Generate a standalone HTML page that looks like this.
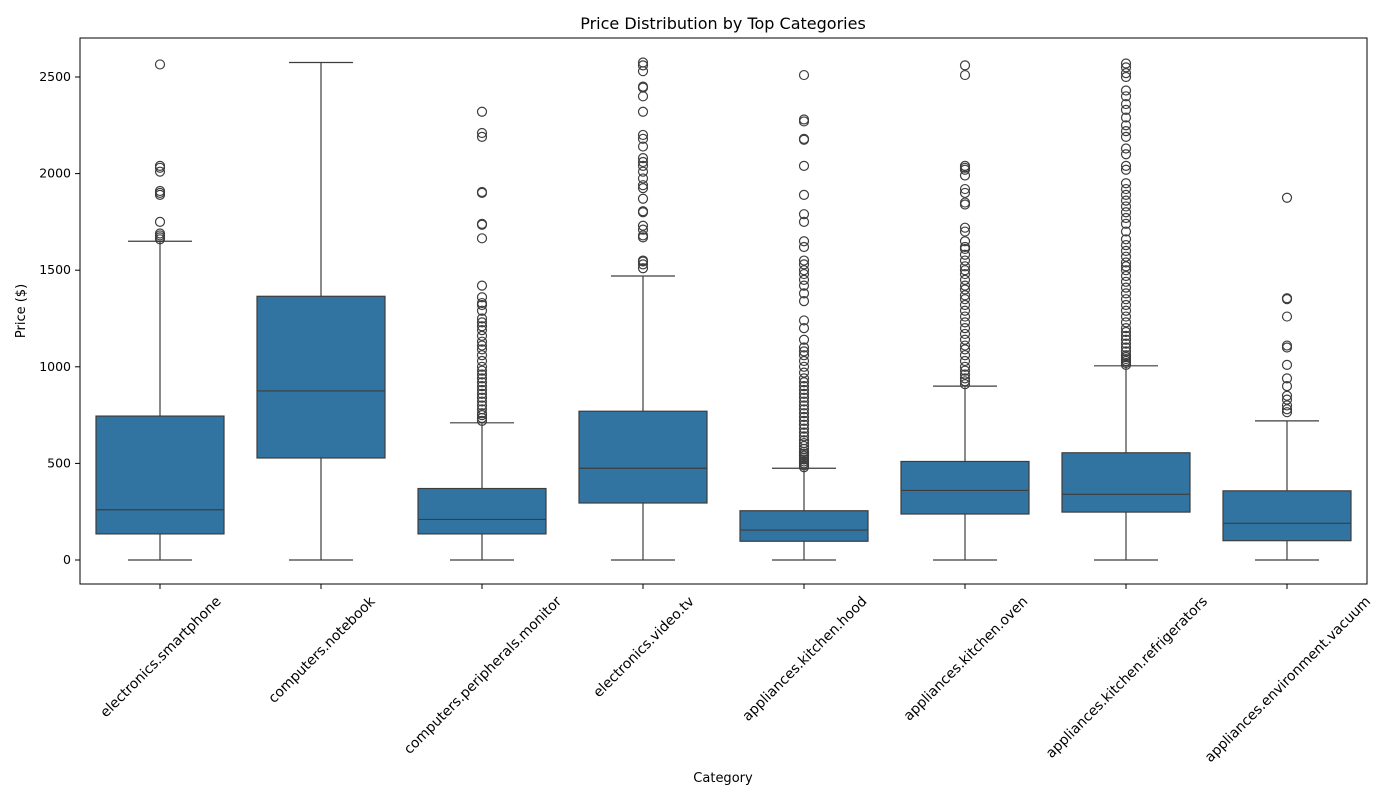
<!DOCTYPE html>
<html><head><meta charset="utf-8"><style>
body{margin:0;background:#fff;font-family:"DejaVu Sans","Liberation Sans",sans-serif}
svg text{font-family:"DejaVu Sans","Liberation Sans",sans-serif;fill:#000}
</style></head><body>
<svg id="c" width="1400" height="800">
<rect x="0" y="0" width="1400" height="800" fill="#fff"/>
<text x="723" y="29" font-size="16" text-anchor="middle">Price Distribution by Top Categories</text>
<text x="723" y="782" font-size="13" text-anchor="middle">Category</text>
<text transform="translate(25,311) rotate(-90)" font-size="13" text-anchor="middle">Price ($)</text>
<g id="marks"></g>
<rect x="80" y="38" width="1287" height="546" fill="none" stroke="#000" stroke-width="1"/>
</svg>
<script>
const categories=["electronics.smartphone","computers.notebook","computers.peripherals.monitor","electronics.video.tv","appliances.kitchen.hood","appliances.kitchen.oven","appliances.kitchen.refrigerators","appliances.environment.vacuum"];
const whiskerLow=[0,0,0,0,0,0,0,0];
const q1=[135,528,135,295,97,238,248,100];
const median=[260,875,210,475,155,360,340,190];
const q3=[745,1365,370,770,255,510,555,358];
const whiskerHigh=[1650,2575,710,1470,475,900,1005,720];
const outliers=[
[1660,1670,1680,1690,1750,1890,1900,1910,2010,2030,2040,2565],
[],
[720,735,750,760,780,800,820,840,860,880,900,920,940,960,980,1000,1030,1060,1090,1110,1130,1160,1190,1210,1230,1250,1290,1320,1330,1360,1420,1665,1735,1740,1900,1905,2190,2210,2320],
[1510,1530,1545,1550,1670,1680,1710,1730,1800,1805,1870,1925,1940,1975,2010,2040,2060,2080,2140,2180,2200,2320,2400,2445,2450,2530,2560,2575],
[480,490,500,510,520,530,540,550,560,575,590,605,620,640,660,680,700,720,740,760,780,800,820,840,860,880,900,920,940,970,1000,1030,1060,1080,1100,1140,1200,1240,1340,1380,1420,1450,1480,1500,1530,1550,1620,1650,1750,1790,1890,2040,2175,2180,2270,2280,2510],
[910,925,940,960,980,1000,1030,1060,1090,1110,1140,1170,1200,1230,1260,1290,1320,1350,1370,1400,1420,1450,1480,1500,1520,1550,1580,1610,1620,1650,1700,1720,1840,1850,1900,1920,1990,2020,2030,2040,2510,2560],
[1010,1020,1030,1040,1050,1060,1080,1100,1120,1140,1160,1180,1200,1230,1260,1290,1320,1350,1380,1410,1440,1470,1500,1520,1540,1570,1600,1630,1660,1700,1740,1770,1800,1830,1860,1890,1920,1950,2020,2040,2100,2130,2190,2220,2250,2290,2330,2360,2400,2430,2500,2520,2550,2570],
[765,780,800,830,850,900,940,1010,1100,1110,1260,1350,1355,1875]];
const yTicks=[0,500,1000,1500,2000,2500];
const ns="http://www.w3.org/2000/svg";
const y=v=>560-v*483/2500;
const x=i=>160+i*161;
const g=document.getElementById('marks');
function el(t,a){const e=document.createElementNS(ns,t);for(const k in a)e.setAttribute(k,a[k]);g.appendChild(e);return e;}
yTicks.forEach(t=>{
 const l=el('line',{x1:75,x2:80,y1:y(t),y2:y(t),stroke:'#000'});
 
 
 const tx=el('text',{x:71,y:y(t)+4,'font-size':12.5,'text-anchor':'end'});tx.textContent=t;
 
 
});
const lc='#3d3d3d';
categories.forEach((c,i)=>{
 const cx=x(i),w=128;
 const tk=el('line',{x1:cx,x2:cx,y1:584,y2:589,stroke:'#000'});
 
 
 const lb=el('text',{'font-size':13.9,'text-anchor':'middle','dominant-baseline':'central'});lb.textContent=c;
 
 
 const L=lb.getComputedTextLength();
 const cy=594+(L+15)*0.7071/2;
 lb.setAttribute('transform',`translate(${cx+1},${cy}) rotate(-45)`);
 const w1=el('line',{x1:cx,x2:cx,y1:y(whiskerLow[i]),y2:y(q1[i]),stroke:lc,'stroke-width':1.2});
 
 
 const w2=el('line',{x1:cx,x2:cx,y1:y(q3[i]),y2:y(whiskerHigh[i]),stroke:lc,'stroke-width':1.2});
 
 
 [whiskerLow[i],whiskerHigh[i]].forEach(v=>{const cap=el('line',{x1:cx-32,x2:cx+32,y1:y(v),y2:y(v),stroke:lc,'stroke-width':1.2});
  
  });
 const b=el('rect',{x:cx-w/2,y:y(q3[i]),width:w,height:y(q1[i])-y(q3[i]),fill:'#3274a1',stroke:lc,'stroke-width':1.2});
 
 
 const m=el('line',{x1:cx-w/2,x2:cx+w/2,y1:y(median[i]),y2:y(median[i]),stroke:lc,'stroke-width':1.2});
 
 
 outliers[i].forEach(v=>{const o=el('circle',{cx:cx,cy:y(v),r:4.5,fill:'none',stroke:lc,'stroke-width':1.2});
  
  });
});
</script>
</body></html>
